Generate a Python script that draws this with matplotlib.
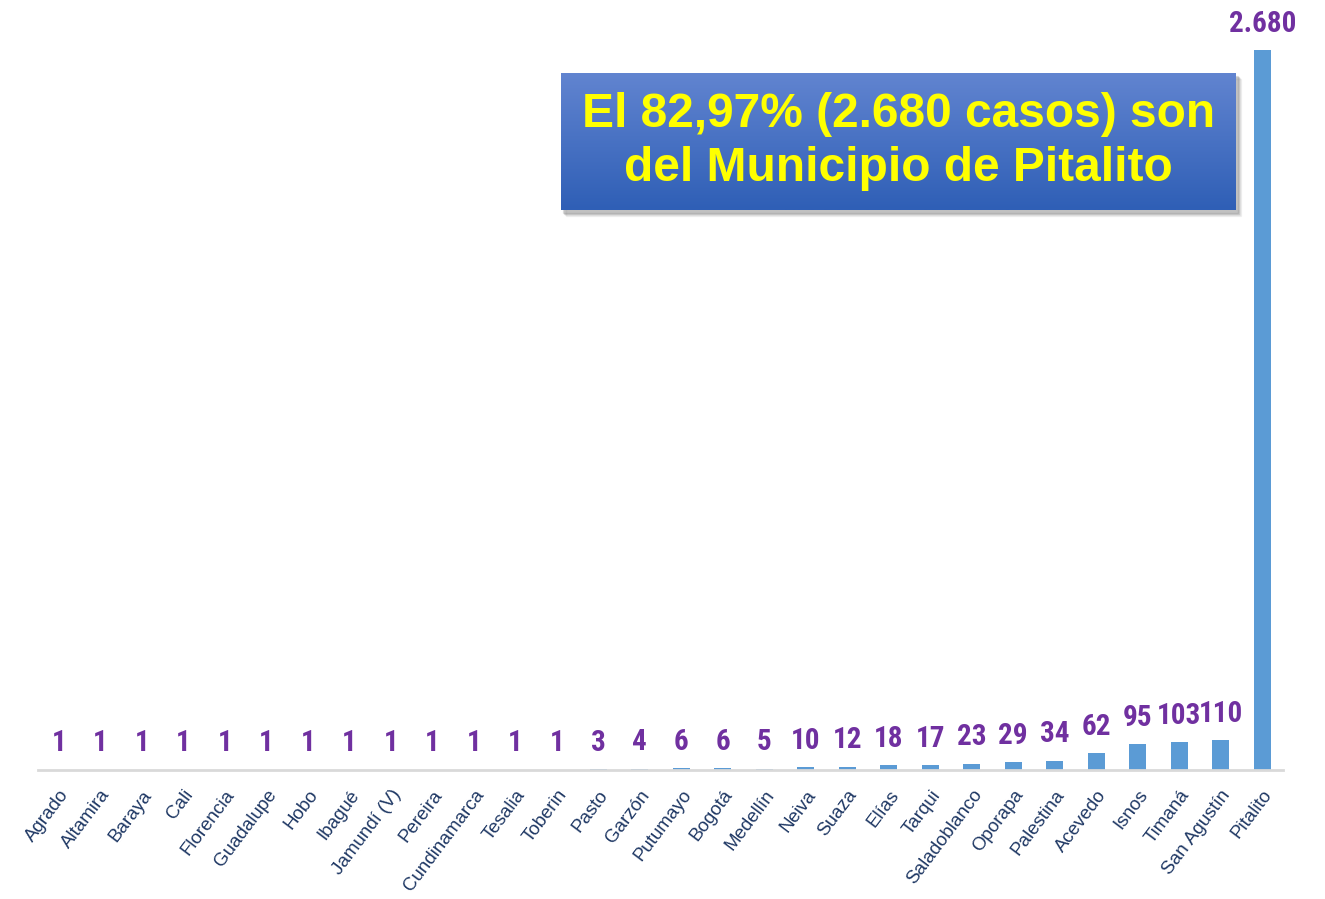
import numpy as np
import matplotlib
matplotlib.use('Agg')
import matplotlib.pyplot as plt
from matplotlib.patches import Rectangle

municipios = ['Agrado', 'Altamira', 'Baraya', 'Cali', 'Florencia', 'Guadalupe', 'Hobo',
              'Ibagué', 'Jamundí (V)', 'Pereira', 'Cundinamarca', 'Tesalia', 'Toberin',
              'Pasto', 'Garzón', 'Putumayo', 'Bogotá', 'Medellín', 'Neiva', 'Suaza',
              'Elías', 'Tarqui', 'Saladoblanco', 'Oporapa', 'Palestina', 'Acevedo',
              'Isnos', 'Timaná', 'San Agustín', 'Pitalito']
casos = [1, 1, 1, 1, 1, 1, 1, 1, 1, 1, 1, 1, 1, 3, 4, 6, 6, 5, 10, 12, 18, 17,
         23, 29, 34, 62, 95, 103, 110, 2680]
etiquetas = ['1'] * 13 + ['3', '4', '6', '6', '5', '10', '12', '18', '17', '23',
                          '29', '34', '62', '95', '103', '110', '2.680']
mensaje = 'El 82,97% (2.680 casos) son\ndel Municipio de Pitalito'

W, H = 1325, 899
fig = plt.figure(figsize=(W / 100, H / 100), dpi=100)
fig.patch.set_facecolor('white')

ax = fig.add_axes([38 / W, (H - 770) / H, 1245 / W, 720 / H])
x = np.arange(len(municipios))
ax.bar(x, casos, width=0.42, color='#5B9BD5', zorder=2)
ax.set_xlim(-0.5, len(municipios) - 0.5)
ax.set_ylim(0, max(casos))

for xi, v, lab in zip(x, casos, etiquetas):
    ax.annotate(lab, (xi, v), xytext=(0, 9), textcoords='offset points',
                ha='center', va='bottom', fontsize=21, fontweight='bold',
                family=['Roboto Condensed', 'DejaVu Sans'],
                color='#7030A0', annotation_clip=False)

ax.set_xticks(x)
ax.set_xticklabels(municipios, rotation=53, ha='right', va='top',
                   rotation_mode='anchor', fontsize=13.5,
                   family=['Liberation Sans', 'DejaVu Sans'], color='#1F3864')
ax.tick_params(axis='x', length=0, pad=12)
ax.set_yticks([])
for s in ['left', 'right', 'top']:
    ax.spines[s].set_visible(False)
ax.spines['bottom'].set_color('#D9D9D9')
ax.spines['bottom'].set_linewidth(2)
ax.set_facecolor('none')

# caja con el mensaje
bx, by, bw, bh = 561 / W, (H - 210) / H, 675 / W, 137 / H
for k in range(6):
    d = k + 1
    fig.patches.append(Rectangle((bx + (1 + d * 0.6) / W, by - (2 + d * 0.6) / H), bw, bh,
                                 transform=fig.transFigure, color='black',
                                 alpha=0.045, zorder=1))
bax = fig.add_axes([bx, by, bw, bh], zorder=3)
grad = np.linspace(0, 1, 100).reshape(-1, 1)
cmap = matplotlib.colors.LinearSegmentedColormap.from_list('g', ['#6184D0', '#2F5FB6'])
bax.imshow(grad, aspect='auto', cmap=cmap, extent=[0, 1, 0, 1], origin='upper')
bax.set_axis_off()
bax.text(0.5, 0.5, mensaje, transform=bax.transAxes, ha='center', va='center',
         fontsize=34.5, fontweight='bold', color='#FFFF00', linespacing=1.25,
         family=['Liberation Sans', 'DejaVu Sans'])

fig.savefig('out.png', dpi=100, facecolor='white')
